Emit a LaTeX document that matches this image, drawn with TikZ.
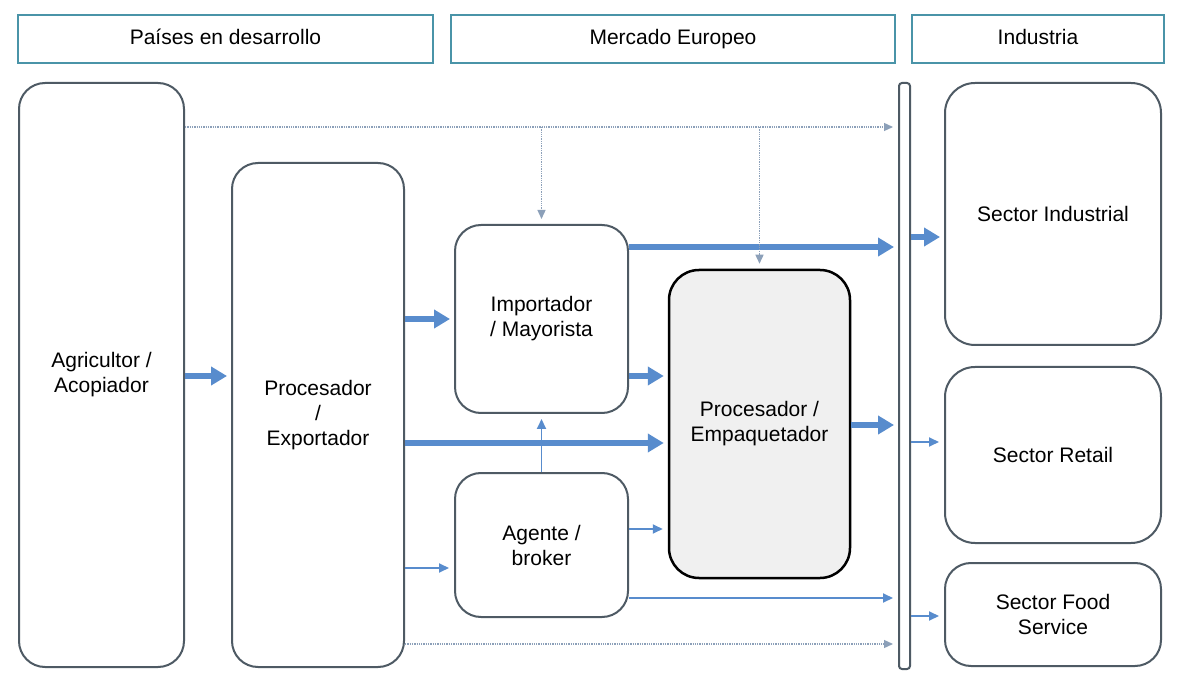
\documentclass[tikz,border=0pt]{standalone}
\usepackage{fontspec}
\setmainfont{Liberation Sans}
\usepackage{xcolor}
\usepackage{tikz}
\usetikzlibrary{arrows.meta, positioning, calc}

\definecolor{hdrline}{RGB}{74,148,168}
\definecolor{boxline}{RGB}{78,90,100}
\definecolor{flow}{RGB}{88,140,205}
\definecolor{dotline}{RGB}{140,160,185}
\definecolor{packfill}{RGB}{240,240,240}

\tikzset{
    header/.style={rectangle, draw=hdrline, line width=2pt, fill=white, minimum height=48pt, text height=15pt, text depth=4pt, text centered},
    actor/.style={rectangle, draw=boxline, line width=2pt, rounded corners=26pt, fill=white, align=center, inner sep=2pt},
    big/.style={flow, line width=6.5pt, -{Triangle[length=16pt,width=18pt]}, shorten >=4pt},
    small/.style={flow, line width=1.9pt, -{Triangle[length=10pt,width=9pt]}, shorten >=5pt},
    dots/.style={dotline, line width=1.3pt, densely dotted, -{Triangle[length=9pt,width=8pt]}, shorten >=5pt}
}

\begin{document}
\begin{tikzpicture}[x=1pt, y=-1pt, node distance=16pt, font=\fontsize{21}{25}\selectfont]
    \fill[white] (0,0) rectangle (1197,684);
    \useasboundingbox (0,0) rectangle (1197,684);

    % Headers
    \node (hdev) [header, minimum width=415pt] at (225.5,39) {Países en desarrollo};
    \node (heu) [header, minimum width=444pt, right=of hdev] {Mercado Europeo};
    \node (hind) [header, minimum width=252pt, right=15pt of heu] {Industria};

    % Chain
    \node (agr) [actor, minimum width=165pt, minimum height=584pt] at (101.5,375) {Agricultor /\\Acopiador};
    \node (proexp) [actor, minimum width=172pt, minimum height=504pt] at (318,415) {Procesador\\/\\Exportador};
    \node (imp) [actor, minimum width=173pt, minimum height=188pt] at (541.5,319) {Importador\\/ Mayorista};
    \node (age) [actor, minimum width=173pt, minimum height=144pt, below=58pt of imp] {Agente /\\broker};
    \node (pemp) [actor, draw=black, fill=packfill, line width=2.5pt, rounded corners=30pt, minimum width=181pt, minimum height=308pt] at (759.5,424) {Procesador /\\Empaquetador};
    \node (bar) [rectangle, draw=boxline, line width=2pt, rounded corners=3pt, fill=white, inner sep=0pt, minimum width=11pt, minimum height=586pt] at (904.5,376) {};

    % Industry
    \node (ind) [actor, rounded corners=30pt, minimum width=216pt, minimum height=262pt] at (1053,214) {Sector Industrial};
    \node (ret) [actor, rounded corners=30pt, minimum width=216pt, minimum height=176pt, below=20pt of ind] {Sector Retail};
    \node (food) [actor, minimum width=216pt, minimum height=103pt, below=18pt of ret] {Sector Food\\Service};

    % Flows
    \draw[big] (agr.east |- 0,376) -- (proexp.west |- 0,376);
    \draw[big] (proexp.east |- 0,319) -- (imp.west);
    \draw[big] (proexp.east |- 0,443) -- (pemp.west |- 0,443);
    \draw[small] (proexp.east |- 0,568) -- (age.west |- 0,568);
    \draw[small] (age.north) -- (imp.south);
    \draw[big] (imp.east |- 0,376) -- (pemp.west |- 0,376);
    \draw[big] (imp.east |- 0,247) -- (bar.west |- 0,247);
    \draw[small] (age.east |- 0,529) -- (pemp.west |- 0,529);
    \draw[small] (age.east |- 0,598) -- (bar.west |- 0,598);
    \draw[big] (pemp.east |- 0,425) -- (bar.west |- 0,425);
    \draw[big] (bar.east |- 0,237) -- (ind.west |- 0,237);
    \draw[small] (bar.east |- 0,442) -- (ret.west |- 0,442);
    \draw[small] (bar.east |- 0,616) -- (food.west |- 0,616);

    % Dotted flows
    \coordinate (fork1) at (imp.north |- 0,127);
    \coordinate (fork2) at (pemp.north |- 0,127);
    \draw[dots] (agr.east |- 0,127) -- (bar.west |- 0,127);
    \draw[dots] (fork1) -- (imp.north);
    \draw[dots] (fork2) -- (pemp.north);
    \draw[dots] (proexp.east |- 0,644) -- (bar.west |- 0,644);
\end{tikzpicture}
\end{document}
